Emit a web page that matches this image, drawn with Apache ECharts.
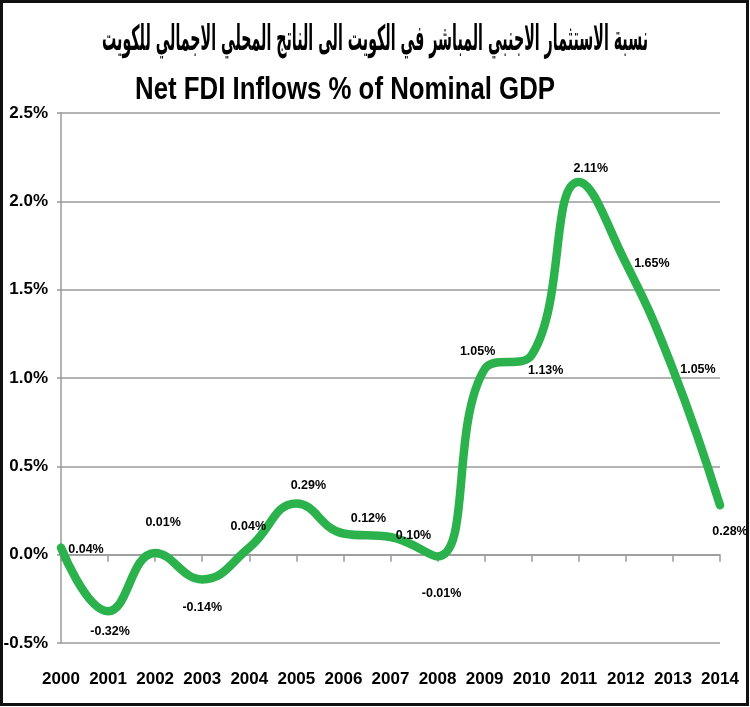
<!DOCTYPE html>
<html>
<head>
<meta charset="utf-8">
<script src="https://cdn.jsdelivr.net/npm/echarts@6/dist/echarts.min.js"></script>
<style>
  html, body { margin: 0; padding: 0; background: #fff; }
  #chart { width: 750px; height: 707px; }
</style>
</head>
<body>
<div id="chart"></div>
<script>
// 数据
const years = ['2000', '2001', '2002', '2003', '2004', '2005', '2006', '2007',
  '2008', '2009', '2010', '2011', '2012', '2013', '2014'];
const fdiPct = [0.04, -0.32, 0.01, -0.14, 0.04, 0.29, 0.12, 0.10,
  -0.01, 1.05, 1.13, 2.11, 1.65, 1.05, 0.28];
const yTicks = [-0.5, 0, 0.5, 1.0, 1.5, 2.0, 2.5];
const titleAr = 'نسبة الاستثمار الاجنبي المباشر في الكويت الى الناتج المحلي الاجمالي للكويت';
const titleEn = 'Net FDI Inflows % of Nominal GDP';

// label offsets relative to each point (style only)
const labelOffsets = [
  [25, 2], [2, 20], [8, -30], [0, 28], [-1, -21], [12, -18], [25, -15], [23, -1],
  [4, 37], [-7, -18], [14, 16], [12, -13], [26, 0], [25, 0], [10, 26],
];

const font = "'Liberation Sans', Arial, sans-serif";
const green = '#2bb24c';

// squeeze a title to a target width (the original uses a narrow font)
function fitScale(text, fontCss, target) {
  const ctx = document.createElement('canvas').getContext('2d');
  ctx.font = fontCss;
  return target / ctx.measureText(text).width;
}
const arFont = "bold 35px 'DejaVu Sans', sans-serif";
const enFont = "bold 31px 'Liberation Sans', Arial, sans-serif";
const arScale = fitScale(titleAr, arFont, 546);
const enScale = fitScale(titleEn, enFont, 420);

const chart = echarts.init(document.getElementById('chart'));

chart.setOption({
  animation: false,
  backgroundColor: '#fff',
  graphic: [
    {
      type: 'rect',
      shape: { x: 1.5, y: 1.5, width: 746, height: 703 },
      style: { fill: 'none', stroke: '#111', lineWidth: 3 },
      silent: true,
    },
    {
      type: 'text',
      x: 375,
      y: 41,
      scaleX: arScale,
      style: { text: titleAr, font: arFont, fill: '#000', align: 'center', verticalAlign: 'middle' },
    },
    {
      type: 'text',
      x: 345,
      y: 90,
      scaleX: enScale,
      style: { text: titleEn, font: enFont, fill: '#000', align: 'center', verticalAlign: 'middle' },
    },
  ],
  grid: { left: 61, right: 30, top: 113, bottom: 64, outerBoundsMode: 'none' },
  xAxis: [
    {
      type: 'category',
      data: years,
      boundaryGap: false,
      axisLine: { onZero: true, lineStyle: { color: '#9a9a9a', width: 1.5 } },
      axisTick: { show: true, interval: 0, length: 7, lineStyle: { color: '#9a9a9a', width: 1.5 } },
      axisLabel: { show: false },
    },
    {
      type: 'category',
      data: years,
      boundaryGap: false,
      position: 'bottom',
      axisLine: { show: false, onZero: false },
      axisTick: { show: false },
      axisLabel: { show: true, interval: 0, margin: 28, fontFamily: font, fontWeight: 'bold', fontSize: 17, color: '#000' },
    },
  ],
  yAxis: {
    type: 'value',
    min: yTicks[0],
    max: yTicks[yTicks.length - 1],
    interval: 0.5,
    axisLine: { show: true, lineStyle: { color: '#9a9a9a', width: 1.5 } },
    axisTick: { show: true, length: 4, lineStyle: { color: '#9a9a9a', width: 1.5 } },
    splitLine: { show: true, lineStyle: { color: '#9a9a9a', width: 1.5 } },
    axisLabel: {
      margin: 13,
      fontFamily: font,
      fontWeight: 'bold',
      fontSize: 17,
      color: '#000',
      formatter: (v) => v.toFixed(1) + '%',
    },
  },
  series: [
    {
      type: 'line',
      xAxisIndex: 0,
      data: fdiPct.map((v, i) => ({
        value: v,
        label: { offset: labelOffsets[i] },
      })),
      smooth: 0.45,
      symbol: 'circle',
      symbolSize: 1,
      showSymbol: true,
      itemStyle: { color: green },
      lineStyle: { color: green, width: 8.5, cap: 'round', join: 'round' },
      label: {
        show: true,
        position: 'inside',
        fontFamily: font,
        fontWeight: 'bold',
        fontSize: 12.5,
        color: '#000',
        formatter: (p) => p.value.toFixed(2) + '%',
      },
    },
  ],
});
</script>
</body>
</html>
